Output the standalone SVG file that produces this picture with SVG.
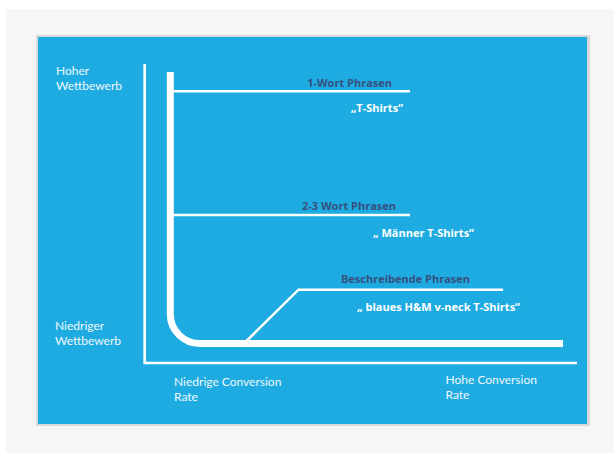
<svg xmlns="http://www.w3.org/2000/svg" width="614" height="453" viewBox="0 0 614 453">
  <style>
    .lbl { font-family: Lato, "Open Sans", sans-serif; font-size: 12px; fill: #eef7fc; }
    .head { font-family: "Open Sans", Lato, sans-serif; font-weight: bold; font-size: 11px; fill: #36507f; }
    .ex { font-family: "Open Sans", Lato, sans-serif; font-weight: bold; font-size: 11px; fill: #ffffff; }
    .axis { stroke: #ffffff; stroke-width: 2.7; fill: none; }
    .curve { stroke: #ffffff; stroke-width: 7; fill: none; }
    .thin { stroke: #ffffff; stroke-width: 2.5; fill: none; }
  </style>
  <rect x="0" y="0" width="614" height="453" fill="#ffffff"/>
  <rect x="6" y="9" width="608" height="444" fill="#f6f6f6"/>
  <rect x="36" y="35" width="554" height="391" fill="#d9d9d9"/>
  <rect x="38" y="37" width="549" height="387" fill="#1eabe1"/>

  <g id="connectors">
    <path class="axis" d="M144.7,64 V363 H577"/>
    <path class="curve" d="M170.3,72 V314 A29.5,29.5 0 0 0 199.8,343.5 H563"/>
    <path class="thin" d="M173,91.3 H410"/>
    <path class="thin" d="M173,215 H410"/>
    <path class="thin" d="M246.5,341 L298.5,289.7 H503"/>
  </g>

  <g id="y-high"><text class="lbl" x="56" y="75">Hoher</text><text class="lbl" x="56" y="90">Wettbewerb</text></g>
  <g id="y-low"><text class="lbl" x="55" y="329.5">Niedriger</text><text class="lbl" x="55" y="345">Wettbewerb</text></g>
  <g id="x-low"><text class="lbl" x="174" y="386">Niedrige Conversion</text><text class="lbl" x="174" y="401">Rate</text></g>
  <g id="x-high"><text class="lbl" x="445.5" y="384">Hohe Conversion</text><text class="lbl" x="445.5" y="399">Rate</text></g>

  <g id="n1"><text class="head" x="392" y="86.5" text-anchor="end">1-Wort Phrasen</text><text class="ex" x="403" y="111.5" text-anchor="end">„T-Shirts“</text></g>
  <g id="n2"><text class="head" x="396" y="210" text-anchor="end">2-3 Wort Phrasen</text><text class="ex" x="474" y="237.3" text-anchor="end">„ Männer T-Shirts“</text></g>
  <g id="n3"><text class="head" x="470" y="283" text-anchor="end">Beschreibende Phrasen</text><text class="ex" x="520" y="310.7" text-anchor="end">„ blaues H&amp;M v-neck T-Shirts“</text></g>
</svg>
